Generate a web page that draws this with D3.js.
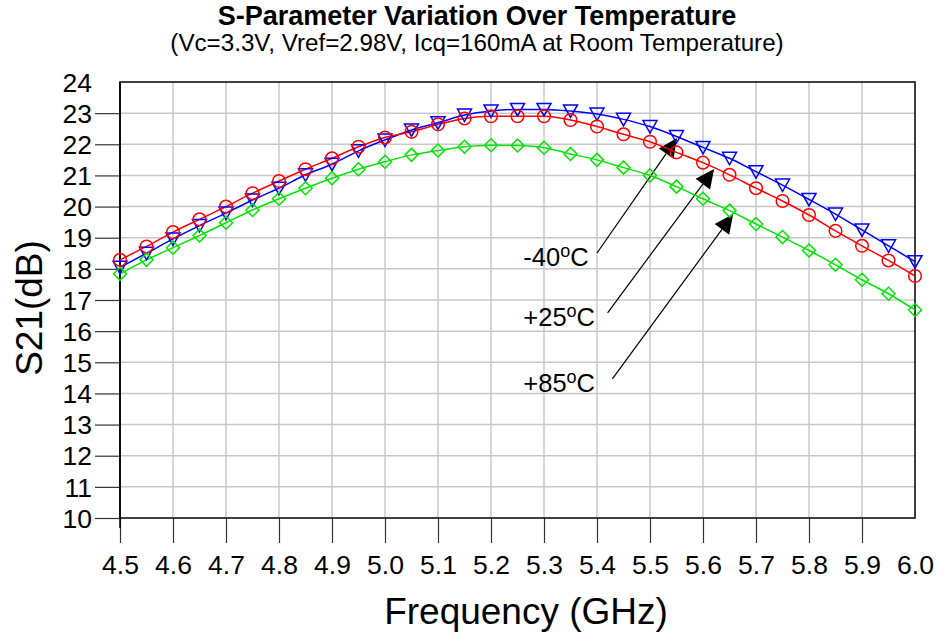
<!DOCTYPE html>
<html><head><meta charset="utf-8">
<script src="https://cdn.jsdelivr.net/npm/d3@7"></script>
<style>
html,body{margin:0;padding:0;background:#fff;}
svg text{font-family:"Liberation Sans",Arial,Helvetica,sans-serif;fill:#000;}
</style></head>
<body>
<svg id="chart" width="938" height="639"></svg>
<script>
// ---- data ----
const freqs = [4.5,4.55,4.6,4.65,4.7,4.75,4.8,4.85,4.9,4.95,5.0,5.05,5.1,5.15,5.2,5.25,5.3,5.35,5.4,5.45,5.5,5.55,5.6,5.65,5.7,5.75,5.8,5.85,5.9,5.95,6.0];
const s21_m40 = [18.05,18.5,18.96,19.39,19.79,20.21,20.59,21.02,21.36,21.79,22.14,22.46,22.69,22.94,23.07,23.12,23.12,23.07,22.97,22.8,22.57,22.25,21.9,21.55,21.12,20.69,20.23,19.76,19.25,18.74,18.23];
const s21_p25 = [18.29,18.72,19.18,19.59,20.0,20.43,20.82,21.2,21.55,21.92,22.22,22.4,22.64,22.83,22.9,22.9,22.9,22.78,22.57,22.32,22.08,21.74,21.41,21.02,20.59,20.18,19.73,19.22,18.74,18.27,17.77];
const s21_p85 = [17.84,18.29,18.68,19.07,19.48,19.89,20.25,20.59,20.91,21.2,21.44,21.66,21.8,21.92,21.97,21.96,21.89,21.69,21.5,21.25,21.0,20.64,20.25,19.87,19.44,19.02,18.59,18.13,17.65,17.2,16.68];
const xTicks = [4.5,4.6,4.7,4.8,4.9,5.0,5.1,5.2,5.3,5.4,5.5,5.6,5.7,5.8,5.9,6.0];
const yTicks = [10,11,12,13,14,15,16,17,18,19,20,21,22,23,24];
const seriesNames = ["-40","+25","+85"];
// annotation label anchor / arrow start / arrow tip in data units (GHz, dB)
const annLabelF = [5.261,5.261,5.261];
const annLabelDb = [18.10,16.18,14.06];
const annStartF = [5.40,5.42,5.429];
const annStartDb = [18.51,16.59,14.47];
const annTipF = [5.551,5.621,5.657];
const annTipDb = [22.20,21.21,19.76];
const title = "S-Parameter Variation Over Temperature";
const subtitle = "(Vc=3.3V, Vref=2.98V, Icq=160mA at Room Temperature)";
const xTitle = "Frequency (GHz)";
const yTitle = "S21(dB)";

// ---- layout ----
const svg = d3.select("#chart");
const L = 120, R = 915, T = 82, B = 518;
const x = d3.scaleLinear().domain([4.5, 6.0]).range([L, R]);
const y = d3.scaleLinear().domain([10, 24]).range([B, T]);

const series = [
  {name: seriesNames[0], vals: s21_m40, color: "#0000ff", marker: "tri"},
  {name: seriesNames[1], vals: s21_p25, color: "#ff0000", marker: "circ"},
  {name: seriesNames[2], vals: s21_p85, color: "#00e600", marker: "dia"}
];

// grid
const grid = svg.append("g");
grid.selectAll("line.v").data(xTicks.slice(1, -1)).join("line")
  .attr("x1", d => x(d)).attr("x2", d => x(d)).attr("y1", T).attr("y2", B)
  .attr("stroke", "#c8c8c8").attr("stroke-width", 1.5);
grid.selectAll("line.h").data(yTicks.slice(1, -1)).join("line")
  .attr("x1", L).attr("x2", R).attr("y1", d => y(d)).attr("y2", d => y(d))
  .attr("stroke", "#c8c8c8").attr("stroke-width", 1.5);

// axes via d3
const xAxis = d3.axisBottom(x).tickValues(xTicks).tickSize(25).tickPadding(7).tickFormat(d3.format(".1f"));
const gx = svg.append("g").attr("transform", `translate(0,${B})`).call(xAxis);
gx.select(".domain").remove();
gx.selectAll(".tick line").attr("stroke", "#333").attr("stroke-width", 1.2)
  .attr("display", d => d === 6.0 ? "none" : null);
gx.selectAll(".tick text").attr("font-size", 26.5).attr("font-family", "Liberation Sans, Arial, sans-serif")
  .attr("fill", "#000").attr("dy", null).attr("y", 56);

const yAxis = d3.axisLeft(y).tickValues(yTicks).tickSize(25).tickPadding(3).tickFormat(d3.format("d"));
const gy = svg.append("g").attr("transform", `translate(${L},0)`).call(yAxis);
gy.select(".domain").remove();
gy.selectAll(".tick line").attr("stroke", "#333").attr("stroke-width", 1.2)
  .attr("display", d => d === 24 ? "none" : null);
gy.selectAll(".tick text").attr("font-size", 26.5).attr("font-family", "Liberation Sans, Arial, sans-serif")
  .attr("fill", "#000").attr("x", -28).attr("dy", "0.35em");

// frame
svg.append("rect").attr("x", L).attr("y", T).attr("width", R - L).attr("height", B - T)
  .attr("fill", "none").attr("stroke", "#000").attr("stroke-width", 1.5);
svg.append("line").attr("x1", L).attr("x2", L).attr("y1", T).attr("y2", B + 10)
  .attr("stroke", "#000").attr("stroke-width", 1.5);

// annotations (drawn under curves)
const ann = svg.append("g");
seriesNames.forEach((nm, i) => {
  const sx = x(annStartF[i]), sy = y(annStartDb[i]);
  const tx = x(annTipF[i]), ty = y(annTipDb[i]);
  const dx = tx - sx, dy = ty - sy, len = Math.hypot(dx, dy);
  const ux = dx / len, uy = dy / len, px = -uy, py = ux;
  const hl = 19, hw = 9;
  const bx = tx - ux * hl, by = ty - uy * hl;
  ann.append("line").attr("x1", sx).attr("y1", sy).attr("x2", bx).attr("y2", by)
    .attr("stroke", "#000").attr("stroke-width", 1.2);
  ann.append("polygon")
    .attr("points", [[tx, ty], [bx + px * hw, by + py * hw], [bx - px * hw, by - py * hw]].map(p => p.join(",")).join(" "))
    .attr("fill", "#000");
  const t = ann.append("text").attr("x", x(annLabelF[i])).attr("y", y(annLabelDb[i]))
    .attr("font-size", 25.5);
  t.append("tspan").text(nm);
  t.append("tspan").text("o").attr("font-size", 18).attr("dy", -8.5);
  t.append("tspan").text("C").attr("dy", 8.5);
});

// curves
const lineGen = d3.line().x((d, i) => x(freqs[i])).y(d => y(d)).curve(d3.curveMonotoneX);
const plot = svg.append("g");
series.forEach(s => {
  plot.append("path").datum(s.vals).attr("d", lineGen)
    .attr("fill", "none").attr("stroke", s.color).attr("stroke-width", 1.5);
});
series.forEach(s => {
  const g = plot.append("g");
  const pts = s.vals.map((v, i) => [x(freqs[i]), y(v)]);
  if (s.marker === "circ") {
    g.selectAll("circle").data(pts).join("circle")
      .attr("cx", d => d[0]).attr("cy", d => d[1]).attr("r", 6.3)
      .attr("fill", "none").attr("stroke", s.color).attr("stroke-width", 1.5);
  } else if (s.marker === "tri") {
    g.selectAll("path").data(pts).join("path")
      .attr("d", d => `M${d[0]-7},${d[1]-6}L${d[0]+7},${d[1]-6}L${d[0]},${d[1]+6.5}Z`)
      .attr("fill", "none").attr("stroke", s.color).attr("stroke-width", 1.5);
  } else {
    g.selectAll("path").data(pts).join("path")
      .attr("d", d => `M${d[0]},${d[1]-6.5}L${d[0]+6.5},${d[1]}L${d[0]},${d[1]+6.5}L${d[0]-6.5},${d[1]}Z`)
      .attr("fill", "none").attr("stroke", s.color).attr("stroke-width", 1.5);
  }
});

// titles
svg.append("text").attr("x", 477).attr("y", 25).attr("text-anchor", "middle")
  .attr("font-size", 27).attr("font-weight", "bold").text(title);
svg.append("text").attr("x", 477).attr("y", 51).attr("text-anchor", "middle")
  .attr("font-size", 24.2).text(subtitle);
svg.append("text").attr("x", 526).attr("y", 624).attr("text-anchor", "middle")
  .attr("font-size", 37).text(xTitle);
svg.append("text").attr("transform", "translate(42,308) rotate(-90)").attr("text-anchor", "middle")
  .attr("font-size", 37).text(yTitle);
</script>
</body></html>
